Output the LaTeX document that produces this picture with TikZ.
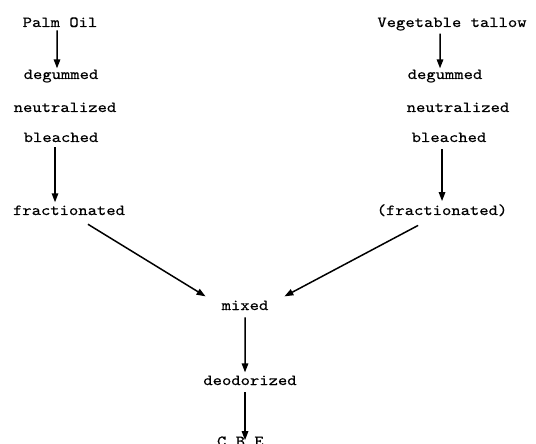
\documentclass[tikz,border=0pt]{standalone}
\usepackage{fontspec}
\setmonofont[FakeStretch=1.15, FakeBold=0.4]{lmmono10-regular.otf}
\usetikzlibrary{arrows.meta}
\tikzset{
  lbl/.style={font=\ttfamily\fontsize{15.5}{16}\selectfont, inner sep=1pt, anchor=base},
  arr/.style={line width=1.5pt, -{Triangle[length=9pt,width=6.5pt]}},
}
\begin{document}
\begin{tikzpicture}[x=1bp,y=-1bp]
\useasboundingbox (0,0) rectangle (536,444);

% left column: palm oil
\node[lbl] (palm)  at (60,27)  {Palm Oil};
\node[lbl] (deg1)  at (61,79)  {degummed};
\node[lbl] (neu1)  at (65,112) {neutralized};
\node[lbl] (ble1)  at (61,142) {bleached};
\node[lbl] (frac1) at (69,215) {fractionated};

% right column: vegetable tallow
\node[lbl] (veg)   at (452,27)  {Vegetable tallow};
\node[lbl] (deg2)  at (445,79)  {degummed};
\node[lbl] (neu2)  at (458,112) {neutralized};
\node[lbl] (ble2)  at (449,142) {bleached};
\node[lbl] (frac2) at (442,215) {(fractionated)};

% common line
\node[lbl] (mixed) at (245,310) {mixed};
\node[lbl] (deo)   at (250,385) {deodorized};
\node[lbl] (cbe)   at (245,446) {C.B.E.};

% processing arrows
\draw[arr] ([xshift=-3pt,yshift=-2pt]palm.south) -- ([xshift=-4pt]deg1.north);
\draw[arr] ([xshift=-6pt,yshift=-4pt]ble1.south) -- ([xshift=-6pt,yshift=2pt]ble1.south |- frac1.north);
\draw[arr] ([xshift=-12pt,yshift=-2pt]veg.south) -- ([xshift=-5pt]deg2.north);
\draw[arr] ([xshift=-7pt,yshift=-6pt]ble2.south) -- ([xshift=-7pt,yshift=2pt]ble2.south |- frac2.north);
\draw[arr] ([xshift=19pt,yshift=-8pt]frac1.south) -- ([xshift=-15pt,yshift=3pt]mixed.north west);
\draw[arr] ([xshift=-24pt,yshift=-8pt]frac2.south) -- ([xshift=15pt,yshift=3pt]mixed.north east);
\draw[arr] ([yshift=-6pt]mixed.south) -- ([xshift=-5pt,yshift=2pt]deo.north);
\draw[arr] ([xshift=-5pt,yshift=-6pt]deo.south) -- ([xshift=-5pt,yshift=-5pt]deo.south |- cbe.north);
\end{tikzpicture}
\end{document}
